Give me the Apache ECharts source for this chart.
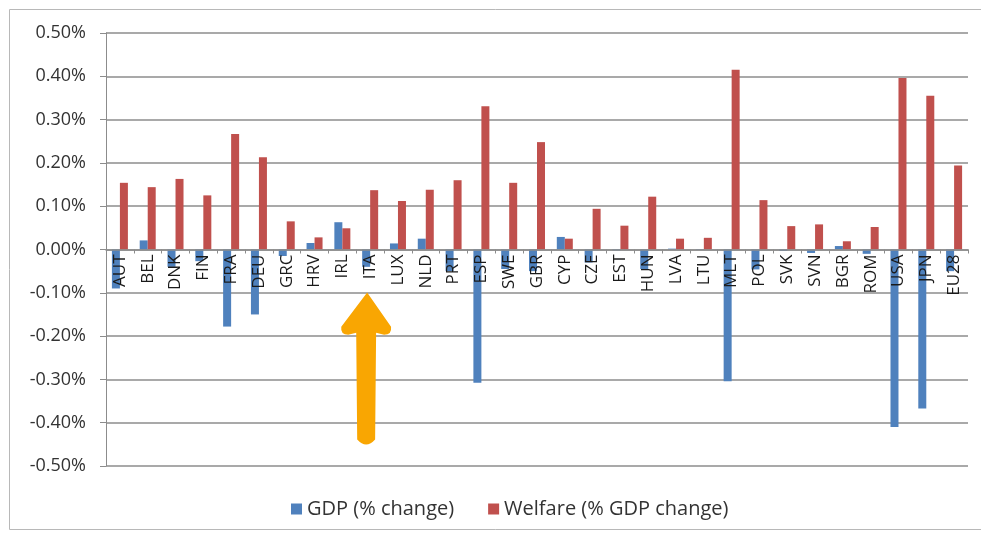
<!DOCTYPE html>
<html>
<head>
<meta charset="utf-8">
<script src="https://cdn.jsdelivr.net/npm/echarts@6/dist/echarts.min.js"></script>
<style>
  html, body { margin: 0; padding: 0; background: #fff; }
  #chart { width: 981px; height: 536px; }
</style>
</head>
<body>
<div id="chart"></div>
<script>
// country codes
var countries = ['AUT', 'BEL', 'DNK', 'FIN', 'FRA', 'DEU', 'GRC', 'HRV', 'IRL', 'ITA', 'LUX', 'NLD', 'PRT', 'ESP', 'SWE', 'GBR',
    'CYP', 'CZE', 'EST', 'HUN', 'LVA', 'LTU', 'MLT', 'POL', 'SVK', 'SVN', 'BGR', 'ROM', 'USA', 'JPN', 'EU28'];
// GDP (% change)
var gdpChange = [-0.09, 0.021, -0.04, -0.027, -0.178, -0.15, -0.015, 0.015, 0.063, -0.04, 0.014, 0.025, -0.05, -0.308, -0.045, -0.05,
    0.029, -0.03, -0.002, -0.045, 0.002, 0.001, -0.304, -0.046, -0.003, -0.008, 0.008, -0.01, -0.41, -0.367, -0.05];
// Welfare (% GDP change)
var welfareChange = [0.154, 0.144, 0.163, 0.125, 0.267, 0.213, 0.065, 0.028, 0.049, 0.137, 0.112, 0.138, 0.16, 0.331, 0.154, 0.248,
    0.025, 0.094, 0.055, 0.122, 0.025, 0.027, 0.415, 0.114, 0.054, 0.058, 0.019, 0.052, 0.396, 0.355, 0.194];
// y axis range (percent)
var yMin = -0.5, yMax = 0.5, yStep = 0.1;

var myChart = echarts.init(document.getElementById('chart'));
var font = '"Open Sans", sans-serif';

var gridTop = 33, gridBottom = 70;
var gridHeight = 536 - gridTop - gridBottom;
// category axis sits on the zero line
var zeroOffset = -gridHeight * (0 - yMin) / (yMax - yMin);

var option = {
    animation: false,
    color: ['#4f81bd', '#c0504d'],
    graphic: [
        {
            type: 'rect',
            shape: { x: 9.5, y: 9.5, width: 1000, height: 520 },
            style: { fill: 'none', stroke: '#b8b8b8', lineWidth: 1 },
            silent: true
        }
    ],
    grid: {
        left: 106,
        right: 13,
        top: gridTop,
        bottom: gridBottom
    },
    legend: {
        bottom: 12,
        left: 286,
        itemWidth: 11,
        itemHeight: 11,
        itemGap: 34,
        icon: 'rect',
        textStyle: { fontFamily: font, fontSize: 20, color: '#333' },
        data: ['GDP (% change)', 'Welfare (% GDP change)']
    },
    xAxis: {
        type: 'category',
        data: countries,
        position: 'bottom',
        offset: zeroOffset,
        z: 5,
        axisLine: { onZero: false, lineStyle: { color: '#8c8c8c', width: 1.5 } },
        axisTick: { show: true, length: 4, lineStyle: { color: '#8c8c8c' } },
        axisLabel: {
            rotate: 90,
            interval: 0,
            margin: 5,
            fontFamily: font,
            fontSize: 17,
            color: '#1a1a1a'
        },
        splitLine: { show: false }
    },
    yAxis: {
        type: 'value',
        min: yMin,
        max: yMax,
        interval: yStep,
        axisLine: { show: true, lineStyle: { color: '#8c8c8c', width: 1 } },
        axisTick: { show: true, length: 6, lineStyle: { color: '#8c8c8c' } },
        axisLabel: {
            fontFamily: font,
            fontSize: 18,
            color: '#333',
            margin: 20,
            formatter: function (v) { return v.toFixed(2) + '%'; }
        },
        splitLine: { lineStyle: { color: '#8c8c8c', width: 1.5 } }
    },
    series: [
        {
            name: 'GDP (% change)',
            type: 'bar',
            barWidth: 8,
            barGap: '0%',
            data: gdpChange,
            markPoint: {
                silent: true,
                symbol: 'path://M26 0 L50 34 Q51 42 43 42 L35 40 L34 146 Q25 156 16 146 L15 40 L7 42 Q-1 42 0 34 Z',
                symbolSize: [50, 152],
                itemStyle: { color: '#f9a602' },
                label: { show: false },
                data: [{ coord: ['ITA', -0.275] }]
            }
        },
        {
            name: 'Welfare (% GDP change)',
            type: 'bar',
            barWidth: 8,
            data: welfareChange
        }
    ]
};
myChart.setOption(option, true);
</script>
</body>
</html>
